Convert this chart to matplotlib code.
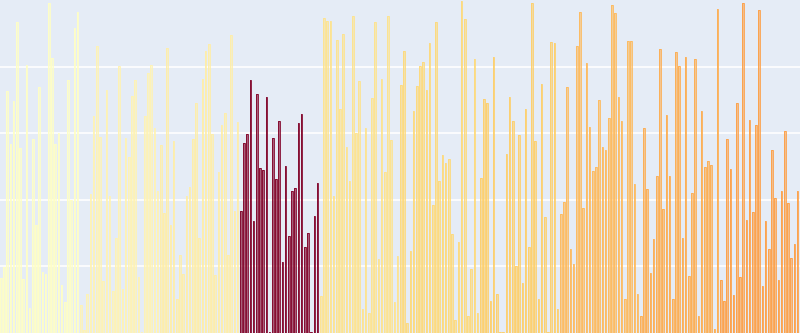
import matplotlib
matplotlib.use("Agg")
import matplotlib.pyplot as plt
import numpy as np

# bar heights, 10 groups of 25
group_1 = [0.164, 0.199, 0.728, 0.568, 0.698, 0.934, 0.555, 0.162, 0.804, 0.075,
           0.582, 0.323, 0.738, 0.183, 0.177, 0.991, 0.825, 0.568, 0.602, 0.144,
           0.094, 0.760, 0.399, 0.915, 0.964]
group_2 = [0.084, 0.009, 0.118, 0.416, 0.653, 0.862, 0.588, 0.156, 0.730, 0.412,
           0.127, 0.285, 0.802, 0.131, 0.585, 0.530, 0.712, 0.760, 0.168, 0.003,
           0.653, 0.780, 0.804, 0.617, 0.427]
group_3 = [0.564, 0.359, 0.857, 0.324, 0.576, 0.101, 0.234, 0.177, 0.412, 0.437,
           0.582, 0.692, 0.284, 0.762, 0.847, 0.867, 0.597, 0.173, 0.484, 0.624,
           0.660, 0.233, 0.896, 0.366, 0.633]
group_4 = [0.367, 0.570, 0.597, 0.759, 0.337, 0.717, 0.495, 0.488, 0.710, 0.004,
           0.587, 0.462, 0.636, 0.212, 0.503, 0.290, 0.427, 0.436, 0.631, 0.657,
           0.257, 0.301, 0.004, 0.351, 0.450]
group_5 = [0.112, 0.947, 0.937, 0.937, 0.412, 0.880, 0.673, 0.897, 0.558, 0.456,
           0.953, 0.600, 0.757, 0.071, 0.617, 0.061, 0.707, 0.934, 0.222, 0.764,
           0.484, 0.952, 0.580, 0.093, 0.231]
group_6 = [0.744, 0.847, 0.031, 0.246, 0.667, 0.742, 0.803, 0.815, 0.731, 0.870,
           0.383, 0.934, 0.456, 0.535, 0.512, 0.524, 0.296, 0.039, 0.272, 0.997,
           0.944, 0.052, 0.192, 0.823, 0.059]
group_7 = [0.465, 0.703, 0.691, 0.096, 0.830, 0.116, 0.004, 0.004, 0.539, 0.708,
           0.638, 0.201, 0.596, 0.151, 0.673, 0.258, 0.990, 0.578, 0.102, 0.747,
           0.348, 0.004, 0.873, 0.871, 0.073]
group_8 = [0.357, 0.392, 0.738, 0.252, 0.207, 0.862, 0.964, 0.374, 0.810, 0.619,
           0.486, 0.497, 0.701, 0.560, 0.549, 0.645, 0.984, 0.962, 0.710, 0.637,
           0.102, 0.877, 0.877, 0.447, 0.117]
group_9 = [0.051, 0.616, 0.433, 0.181, 0.282, 0.471, 0.854, 0.372, 0.655, 0.470,
           0.102, 0.844, 0.801, 0.286, 0.828, 0.170, 0.420, 0.822, 0.050, 0.667,
           0.498, 0.517, 0.504, 0.011, 0.972]
group_10 = [0.158, 0.095, 0.583, 0.492, 0.113, 0.691, 0.168, 0.992, 0.340, 0.639,
            0.363, 0.624, 0.970, 0.142, 0.337, 0.251, 0.549, 0.404, 0.159, 0.427,
            0.606, 0.389, 0.226, 0.266, 0.427]

groups = [group_1, group_2, group_3, group_4, group_5,
          group_6, group_7, group_8, group_9, group_10]
group_colors = ["#ffffc4", "#fff3b2", "#ffeea6", "#800026", "#fee38c",
                "#fed978", "#fecf68", "#feb95a", "#fdac4e", "#fd9f44"]

fig = plt.figure(figsize=(8, 3.33), dpi=100)
ax = fig.add_axes([0, 0, 1, 1])
ax.set_facecolor("#e5ecf6")

start = 0
for vals, col in zip(groups, group_colors):
    x = np.arange(start, start + len(vals))
    ax.bar(x, vals, width=0.5, color=col, alpha=0.6, linewidth=0)
    ax.bar(x, vals, width=0.5, fill=False, edgecolor=col, linewidth=0.6)
    start += len(vals)

ax.set_xlim(-0.22, 249.78)
ax.set_ylim(0, 1)
ax.set_yticks([0.2, 0.4, 0.6, 0.8])
ax.grid(True, axis="y", color="white", linewidth=1.2)
ax.set_axisbelow(True)
ax.tick_params(left=False, bottom=False, labelleft=False, labelbottom=False)
for s in ax.spines.values():
    s.set_visible(False)

fig.savefig("out.png", dpi=100)
